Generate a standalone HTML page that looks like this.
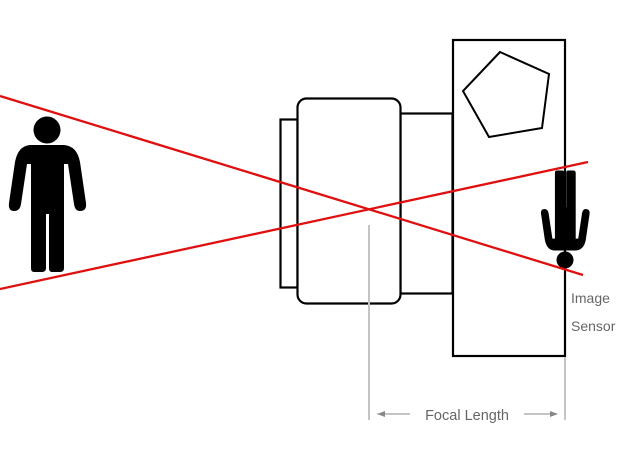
<!DOCTYPE html>
<html><head><style>html,body{margin:0;padding:0;background:#fff;width:640px;height:450px;overflow:hidden}</style></head>
<body>
<svg width="640" height="450" viewBox="0 0 640 450" xmlns="http://www.w3.org/2000/svg">
<defs>
<g id="p">
<circle cx="47" cy="130" r="13.5"/>
<path d="M30,145 L64,145 Q77,146 80,162 L86,203 Q87,211 80,211 Q75,211 74,204 L68,164 L64,164 L64,268 Q64,272 60,272 L52,272 Q49,272 49,268 L49,214 L46,214 L46,268 Q46,272 42,272 L34,272 Q31,272 31,268 L31,164 L27,164 L21,204 Q20,211 14,211 Q8,211 9,203 L15,162 Q18,146 30,145 Z"/>
</g>
</defs>
<rect x="280.5" y="119.5" width="17" height="168" fill="#fff" stroke="#000" stroke-width="2.2"/>
<rect x="400.5" y="113.5" width="52" height="180" fill="#fff" stroke="#000" stroke-width="2.2"/>
<rect x="297.5" y="98.5" width="103" height="205" rx="9" fill="#fff" stroke="#000" stroke-width="2.2"/>
<rect x="453" y="40" width="112" height="316" fill="#fff" stroke="#000" stroke-width="2.2"/>
<polygon points="500,52 549,74 542,128 489,137 463,91" fill="none" stroke="#000" stroke-width="2"/>
<use href="#p" fill="#000"/>
<use href="#p" fill="#000" transform="translate(565,260) scale(0.63,-0.63) translate(-47,-130)"/>
<line x1="0" y1="96" x2="583" y2="275" stroke="#e01010" stroke-width="2.3"/>
<line x1="0" y1="289" x2="588" y2="162" stroke="#e01010" stroke-width="2.3"/>
<line x1="369" y1="225" x2="369" y2="420" stroke="#c4c4c4" stroke-width="2"/>
<line x1="565" y1="357" x2="565" y2="420" stroke="#c4c4c4" stroke-width="2"/>
<g stroke="#888" stroke-width="1" fill="#888">
<line x1="377" y1="414" x2="410" y2="414"/><path d="M377,414 L385,411 L385,417 Z" stroke="none"/>
<line x1="524" y1="414" x2="557" y2="414"/><path d="M558,414 L550,411 L550,417 Z" stroke="none"/>
</g>
<text x="467" y="420" font-family="Liberation Sans, sans-serif" font-size="14.5" fill="#666" text-anchor="middle">Focal Length</text>
<text x="571" y="303" font-family="Liberation Sans, sans-serif" font-size="14" fill="#666">Image</text>
<text x="571" y="331" font-family="Liberation Sans, sans-serif" font-size="14" fill="#666">Sensor</text>
</svg>
</body></html>
